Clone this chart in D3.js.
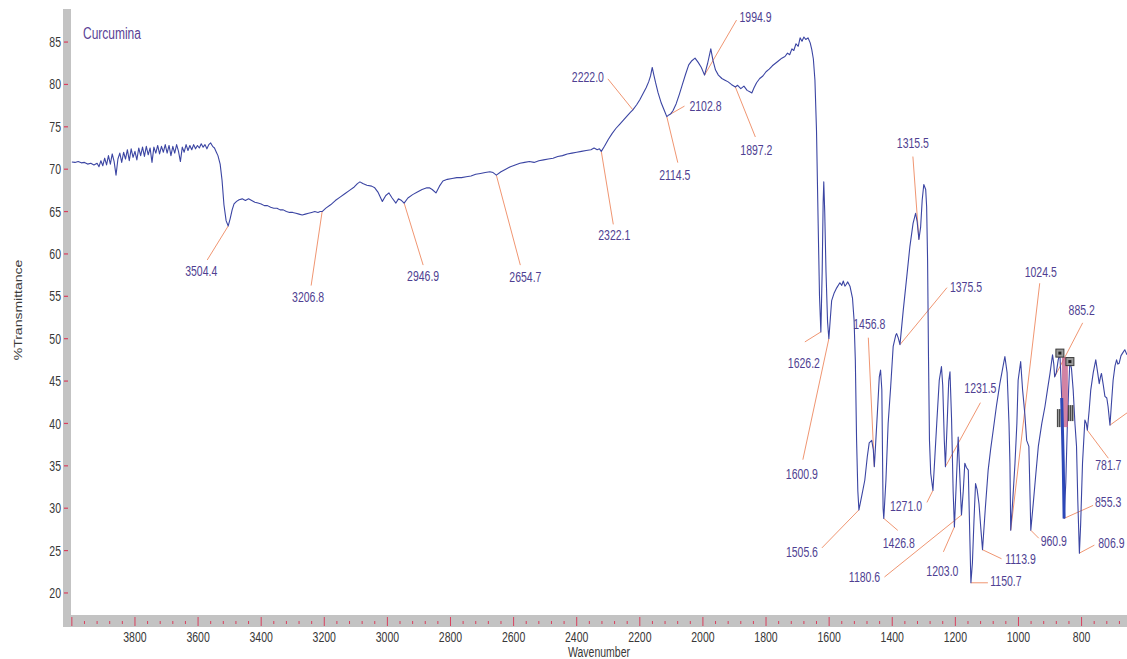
<!DOCTYPE html>
<html>
<head>
<meta charset="utf-8">
<script src="https://cdn.jsdelivr.net/npm/d3@7"></script>
<style>
  body { margin: 0; background: #fff; }
  svg { display: block; font-family: "Liberation Sans", Arial, sans-serif; }
</style>
</head>
<body>
<svg id="chart" width="1127" height="659"></svg>
<script>
// FTIR spectrum of curcumin: [wavenumber cm-1, %T]
const spectrum = [
  [4000,70.85],[3990,70.8],[3980,70.9],[3970,70.75],[3960,70.8],[3950,70.6],[3940,70.7],[3930,70.5],[3920,70.7],
  [3914,70.3],[3908,71.0],[3902,70.4],[3896,71.3],[3890,70.5],[3884,71.6],[3878,70.6],[3872,71.8],[3866,70.9],
  [3860,69.3],[3854,71.2],[3848,71.9],[3842,70.8],[3836,72.0],[3830,71.2],[3824,72.3],[3818,71.0],[3812,72.4],
  [3806,71.4],[3800,72.1],[3794,71.1],[3788,72.5],[3782,71.6],[3776,72.6],[3770,71.5],[3764,72.7],[3758,71.7],
  [3752,72.5],[3746,70.8],[3740,72.6],[3734,71.9],[3728,72.8],[3722,71.8],[3716,72.7],[3710,72.0],[3704,72.9],
  [3698,71.9],[3692,72.8],[3686,71.6],[3680,72.7],[3674,71.9],[3668,72.9],[3662,72.1],[3656,70.9],[3650,72.6],
  [3644,72.0],[3638,72.9],[3632,72.2],[3626,72.8],[3620,72.3],[3614,72.9],[3608,72.4],[3602,72.8],[3596,72.5],
  [3590,73.0],[3584,72.6],[3578,72.9],[3572,72.4],[3566,72.9],[3560,73.1],[3554,72.7],[3548,72.5],[3542,72.0],
  [3537,71.6],[3530,70.6],[3524,68.7],[3518,65.8],[3511,63.9],[3504.4,63.3],[3498,64.2],[3492,65.2],[3486,65.9],
  [3478,66.2],[3470,66.4],[3460,66.5],[3450,66.3],[3440,66.5],[3430,66.3],[3420,66.1],[3410,66.0],[3400,65.9],
  [3390,65.7],[3380,65.7],[3370,65.5],[3360,65.4],[3350,65.4],[3340,65.2],[3330,65.2],[3320,65.0],[3310,64.9],
  [3300,64.9],[3290,64.8],[3280,64.7],[3270,64.6],[3260,64.7],[3250,64.8],[3240,64.9],[3230,65.0],[3220,64.9],
  [3213,65.0],[3206.8,65.0],[3195,65.4],[3180,65.8],[3165,66.3],[3150,66.7],[3135,67.1],[3120,67.5],[3105,67.9],
  [3095,68.3],[3087,68.5],[3078,68.3],[3065,68.1],[3050,68.0],[3040,67.8],[3030,67.3],[3016,66.2],[3005,66.9],
  [2995,67.2],[2985,66.6],[2973,66.0],[2965,66.5],[2955,66.3],[2946.9,66.0],[2935,66.6],[2920,67.0],[2905,67.3],
  [2890,67.6],[2875,67.8],[2867,67.8],[2858,67.6],[2846,67.2],[2835,68.0],[2824,68.6],[2810,68.8],[2795,68.9],
  [2780,69.0],[2765,69.0],[2750,69.1],[2735,69.2],[2720,69.4],[2705,69.5],[2690,69.6],[2675,69.7],[2665,69.6],
  [2654.7,69.3],[2640,69.7],[2625,70.0],[2610,70.3],[2595,70.5],[2580,70.7],[2565,70.8],[2550,70.9],[2535,70.8],
  [2520,71.0],[2505,71.1],[2490,71.2],[2475,71.3],[2460,71.5],[2445,71.6],[2430,71.8],[2415,71.9],[2400,72.0],
  [2385,72.1],[2370,72.2],[2355,72.3],[2345,72.5],[2335,72.3],[2328,72.4],[2322.1,72.1],[2312,72.7],[2300,73.5],
  [2288,74.2],[2276,74.8],[2264,75.3],[2252,75.8],[2240,76.3],[2230,76.7],[2222.0,77.0],[2210,77.6],[2200,78.2],
  [2190,78.9],[2180,79.6],[2172,80.3],[2166,81.0],[2160.6,82.0],[2156,81.2],[2150,80.2],[2142,79.0],[2132,77.8],
  [2122,76.9],[2114.5,76.2],[2108,76.4],[2102.8,76.5],[2095,76.9],[2085,77.7],[2075,78.8],[2065,80.0],[2055,81.2],
  [2045,82.3],[2035,82.8],[2025,83.1],[2015,82.6],[2005,82.0],[1994.9,81.1],[1985,82.5],[1975,84.2],[1968,82.8],
  [1960,81.7],[1951,81.1],[1940,80.7],[1930,80.5],[1920,80.3],[1910,80.0],[1897.2,79.7],[1890,79.9],[1880,79.5],
  [1870,79.8],[1860,79.3],[1850,79.1],[1845,79.0],[1838,79.6],[1830,80.2],[1820,80.7],[1810,81.0],[1800,81.5],
  [1790,81.8],[1780,82.2],[1770,82.5],[1760,82.8],[1750,83.1],[1740,83.3],[1732,83.7],[1725,83.5],[1718,84.2],
  [1712,84.0],[1705,84.8],[1698,84.5],[1692,85.5],[1686,85.1],[1680,85.6],[1674,85.3],[1667,85.5],[1660,84.9],
  [1655,84.1],[1650,83.0],[1645,80.5],[1640,74.5],[1635,64.0],[1630.5,55.0],[1626.2,50.8],[1622,58.0],[1619,66.0],
  [1617,68.5],[1614,65.0],[1610,58.0],[1605,52.0],[1600.9,50.0],[1596,52.5],[1592,54.5],[1584,55.4],[1576,56.0],
  [1566,56.6],[1560,56.3],[1555,56.8],[1550,56.2],[1546,56.4],[1541,56.7],[1534,56.2],[1526,54.8],[1521,52.2],
  [1517,47.5],[1513,38.0],[1509,32.0],[1505.6,29.8],[1497,31.4],[1487,33.3],[1479,36.1],[1473,37.7],[1465,38.0],
  [1460,36.9],[1456.8,34.9],[1452,38.0],[1446,42.0],[1441,45.5],[1437,46.3],[1433,44.0],[1429,30.0],[1426.8,28.8],
  [1420,33.3],[1413,40.0],[1405,44.3],[1397,49.1],[1389,50.4],[1386,50.6],[1381,50.1],[1375.5,49.3],[1365,53.4],
  [1354,57.3],[1344,60.9],[1334,63.6],[1326,64.8],[1321,63.8],[1315.5,61.7],[1310,63.2],[1305,66.4],[1300,68.2],
  [1294,67.6],[1291,65.6],[1288,59.3],[1285,47.5],[1282,38.0],[1278,34.1],[1271.0,32.1],[1265,36.0],[1259,40.0],
  [1251,45.1],[1244,46.7],[1240,44.5],[1235,38.0],[1231.5,34.9],[1226,40.0],[1221,45.0],[1217,46.1],[1212,40.5],
  [1207,32.0],[1203.0,27.8],[1197,33.0],[1191,38.4],[1186,34.0],[1180.6,29.2],[1175,32.0],[1170,35.3],[1165,34.8],
  [1159,34.5],[1155,28.0],[1150.7,21.2],[1146,23.5],[1141,28.5],[1136,32.9],[1131,32.2],[1125,30.5],[1119,27.5],
  [1113.9,25.1],[1105,30.0],[1096,34.5],[1088,37.0],[1080,39.2],[1070,42.0],[1059,44.7],[1050,46.5],[1043,47.9],
  [1036,46.0],[1030,40.0],[1027,35.3],[1024.5,27.4],[1018,31.0],[1011,35.3],[1005,40.0],[1001,45.1],[993,47.3],
  [987,44.0],[980,41.2],[974,38.0],[967,37.3],[963,31.0],[960.9,27.4],[953,30.6],[945,34.0],[937,37.3],
  [926,40.0],[916,42.0],[908,44.0],[900,45.9],[892,48.1],[888,47.0],[885.2,45.5],[880,46.0],[874,47.5],
  [868.7,48.3],[863,43.0],[858,35.3],[855.3,28.8],[850,33.0],[845.5,39.2],[841,44.0],[837,47.3],[832,46.5],
  [826.5,43.9],[821,40.0],[816,37.3],[812,31.0],[806.9,24.7],[803,28.0],[797,35.3],[789.5,40.4],[785,40.0],
  [781.7,39.2],[776,41.5],[771,43.9],[763,46.0],[755,47.5],[749,46.0],[744,44.7],[740,45.5],[737,45.9],
  [731,44.5],[726,43.2],[720,43.0],[716,42.0],[710,39.8],[705,42.5],[700,45.1],[694,46.8],[689,47.5],
  [685,47.0],[681,47.1],[675,48.0],[670,48.3],[663,48.7],[656,48.1]
];

// Picked absorption bands (cm-1)
const peaks = [3504.4, 3206.8, 2946.9, 2654.7, 2322.1, 2222.0, 2114.5, 2102.8, 1994.9, 1897.2,
  1626.2, 1600.9, 1505.6, 1456.8, 1426.8, 1375.5, 1315.5, 1271.0, 1231.5, 1203.0, 1180.6,
  1150.7, 1113.9, 1024.5, 960.9, 885.2, 855.3, 806.9, 781.7];
// band whose label sits past the right edge
const offEdgePeaks = [710.0];
// cursor markers of the spectrometer software
const cursorMarks = [868.7, 837.0];

const yTickValues = [20, 25, 30, 35, 40, 45, 50, 55, 60, 65, 70, 75, 80, 85];
const xTickLabels = [3800, 3600, 3400, 3200, 3000, 2800, 2600, 2400, 2200, 2000, 1800, 1600, 1400, 1200, 1000, 800];
const sampleName = "Curcumina";
const xTitle = "Wavenumber";
const yTitle = "%Transmittance";

// label placement: leader end and text centre, relative to the band point
const labelLayout = {
  "3504.4": { lead: [-21, 34], text: [-27, 45] },
  "3206.8": { lead: [-11, 74], text: [-14, 85] },
  "2946.9": { lead: [19, 62], text: [19, 73] },
  "2654.7": { lead: [24, 90], text: [29, 102] },
  "2322.1": { lead: [12, 73], text: [13, 84] },
  "2222.0": { lead: [-25, -31], text: [-45, -33] },
  "2114.5": { lead: [11, 46], text: [8, 58] },
  "2102.8": { lead: [14, -8], text: [35, -8] },
  "1994.9": { lead: [32, -55], text: [51, -58] },
  "1897.2": { lead: [20, 50], text: [21, 63] },
  "1626.2": { lead: [-16, 10], text: [-17, 31] },
  "1600.9": { lead: [-26, 121], text: [-27, 135] },
  "1505.6": { lead: [-37, 38], text: [-57, 42] },
  "1456.8": { lead: [-6, -129], text: [-5, -143] },
  "1426.8": { lead: [14, 12], text: [15, 25] },
  "1375.5": { lead: [47, -57], text: [66, -58] },
  "1315.5": { lead: [-6, -83], text: [-6, -97] },
  "1271.0": { lead: [-6, 12], text: [-27, 16] },
  "1231.5": { lead: [35, -64], text: [35, -79] },
  "1203.0": { lead: [-11, 25], text: [-12, 44] },
  "1180.6": { lead: [-77, 62], text: [-97, 62] },
  "1150.7": { lead: [17, 0], text: [35, -2] },
  "1113.9": { lead: [19, 9], text: [38, 9] },
  "1024.5": { lead: [29, -247], text: [30, -258] },
  "960.9": { lead: [8, 8], text: [23, 11] },
  "885.2": { lead: [28, -54], text: [27, -67] },
  "855.3": { lead: [29, -13], text: [44, -16] },
  "806.9": { lead: [15, -8], text: [32, -10] },
  "781.7": { lead: [21, 28], text: [21, 35] },
  "710.0": { lead: [25, -18] }
};

const W = 1127, H = 659;
const plot = { left: 71, right: 1127, top: 9, bottom: 615 };
const colors = {
  line: "#3b45a3", leader: "#f09672", peakText: "#4f3f92", name: "#5a3f96",
  axisText: "#383838", bar: "#c3c3c3", tick: "#d8405e"
};
const squeeze = 0.75; // narrow glyph proportions

const svg = d3.select("#chart");
const x = d3.scaleLinear().domain([4002.7, 656]).range([plot.left, plot.right]);
const y = d3.scaleLinear().domain([17.4, 88.9]).range([plot.bottom, plot.top]);

const bisect = d3.bisector(d => -d[0]).left;
function tAt(w) {
  const i = bisect(spectrum, -w);
  if (i <= 0) return spectrum[0][1];
  if (i >= spectrum.length) return spectrum[spectrum.length - 1][1];
  const a = spectrum[i - 1], b = spectrum[i];
  if (a[0] === w) return a[1];
  const f = (a[0] - w) / (a[0] - b[0]);
  return a[1] + f * (b[1] - a[1]);
}

function addText(g, px, py, str, size, fill, anchor) {
  return g.append("text")
    .attr("transform", `translate(${px},${py}) scale(${squeeze},1)`)
    .attr("text-anchor", anchor || "middle")
    .attr("dy", "0.36em")
    .attr("font-size", size)
    .attr("fill", fill)
    .text(str);
}

// axis bars
svg.append("rect").attr("x", 63).attr("y", plot.top).attr("width", plot.left - 63)
  .attr("height", 627 - plot.top).attr("fill", colors.bar);
svg.append("rect").attr("x", 63).attr("y", plot.bottom).attr("width", W - 63)
  .attr("height", 12).attr("fill", colors.bar);

// y ticks and labels
const yAxis = svg.append("g");
yTickValues.forEach(v => {
  yAxis.append("line").attr("x1", 64).attr("x2", 68).attr("y1", y(v)).attr("y2", y(v))
    .attr("stroke", colors.tick).attr("stroke-width", 1.2);
  addText(yAxis, 61, y(v), d3.format("d")(v), 14, colors.axisText, "end");
});

// x ticks (major every 200, minor every 40) and labels
const xAxis = svg.append("g");
d3.range(4000, 655, -40).forEach(w => {
  const major = w % 200 === 0;
  xAxis.append("line")
    .attr("x1", x(w)).attr("x2", x(w))
    .attr("y1", major ? 617 : 621).attr("y2", major ? 626 : 624)
    .attr("stroke", colors.tick).attr("stroke-width", 1);
});
xTickLabels.forEach(w => addText(xAxis, x(w), 637, String(w), 14, colors.axisText));

addText(svg, 599, 652, xTitle, 14, colors.axisText);
svg.append("text")
  .attr("transform", `translate(18,310) rotate(-90) scale(1,${squeeze})`)
  .attr("text-anchor", "middle").attr("dy", "0.36em")
  .attr("font-size", 14).attr("fill", colors.axisText).text(yTitle);

// sample name
addText(svg, 83, 33, sampleName, 16, colors.name, "start");

// spectrum
svg.append("clipPath").attr("id", "plotClip").append("rect")
  .attr("x", plot.left).attr("y", plot.top)
  .attr("width", plot.right - plot.left).attr("height", plot.bottom - plot.top);
const line = d3.line().x(d => x(d[0])).y(d => y(d[1]));

const marks = svg.append("g").attr("clip-path", "url(#plotClip)");

// leader lines under the trace
const leaders = marks.append("g");
peaks.concat(offEdgePeaks).forEach(w => {
  const key = w.toFixed(1);
  const L = labelLayout[key];
  const px = x(w), py = y(tAt(w));
  leaders.append("line")
    .attr("x1", px).attr("y1", py)
    .attr("x2", px + L.lead[0]).attr("y2", py + L.lead[1])
    .attr("stroke", colors.leader).attr("stroke-width", 1);
});

marks.append("path").datum(spectrum)
  .attr("d", line).attr("fill", "none")
  .attr("stroke", colors.line).attr("stroke-width", 1.1)
  .attr("stroke-linejoin", "round");

// cursor region between the two markers
const c0 = [x(cursorMarks[0]), y(tAt(cursorMarks[0]))];
const c1 = [x(cursorMarks[1]), y(tAt(cursorMarks[1]))];
const cur = marks.append("g");
cur.append("rect").attr("x", c0[0] + 2).attr("y", c0[1] + 4)
  .attr("width", c1[0] - c0[0] - 4).attr("height", 70)
  .attr("fill", "#c25a86").attr("opacity", 0.75);
cur.append("path").datum(spectrum.filter(d => d[0] <= 866 && d[0] >= 855.3))
  .attr("d", line).attr("fill", "none").attr("stroke", "#2c48b8").attr("stroke-width", 3);
[-3, -1, 8, 10, 12].forEach((dx, i) => {
  cur.append("rect").attr("x", c0[0] + dx).attr("y", c0[1] + (i < 2 ? 56 : 52))
    .attr("width", 1.6).attr("height", i < 2 ? 18 : 16).attr("fill", "#4a4a4a");
});
[c0, c1].forEach(c => {
  cur.append("rect").attr("x", c[0] - 4).attr("y", c[1] - 4).attr("width", 8).attr("height", 8)
    .attr("fill", "#9a9a9a").attr("stroke", "#3a3a3a").attr("stroke-width", 1);
  cur.append("rect").attr("x", c[0] - 1.5).attr("y", c[1] - 1.5).attr("width", 3).attr("height", 3)
    .attr("fill", "#222");
});

// band labels
const labels = svg.append("g");
peaks.forEach(w => {
  const key = w.toFixed(1);
  const L = labelLayout[key];
  const px = x(w), py = y(tAt(w));
  addText(labels, px + L.text[0], py + L.text[1], key, 14, colors.peakText);
});
</script>
</body>
</html>
